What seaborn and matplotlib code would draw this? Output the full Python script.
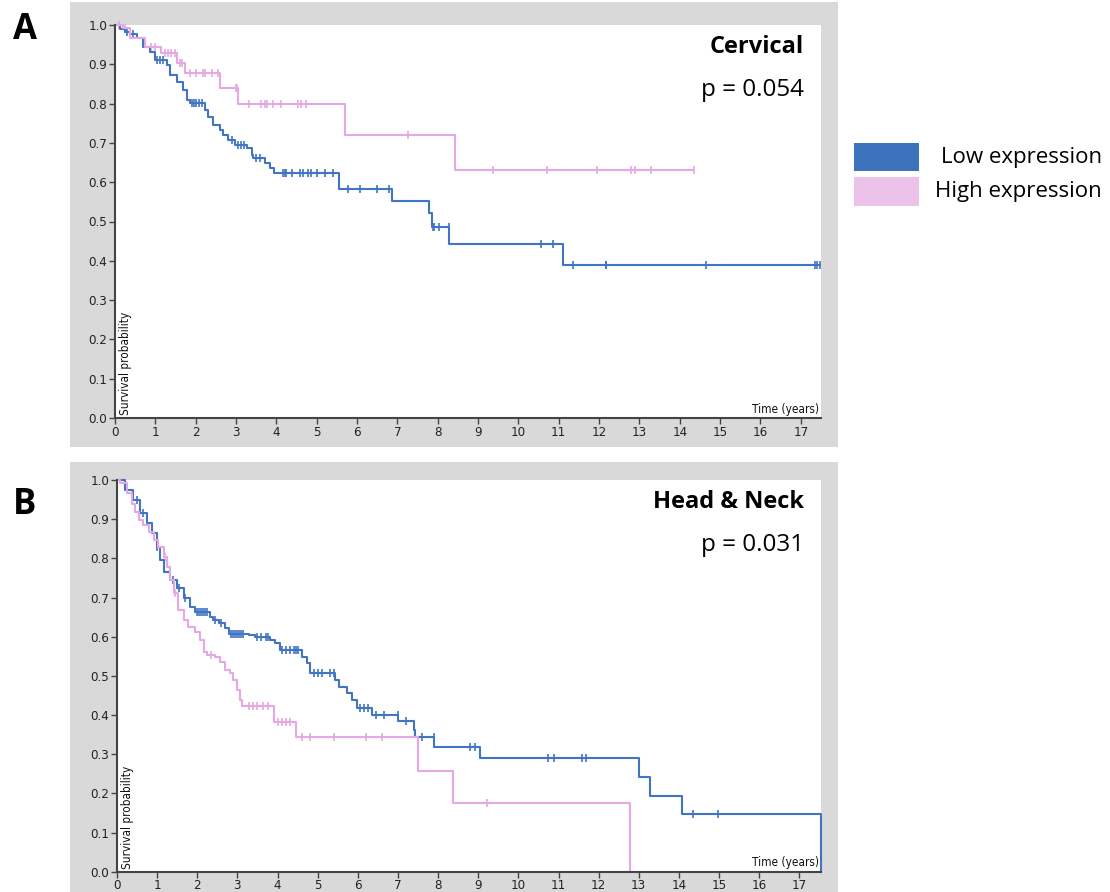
import numpy as np
import pandas as pd
import matplotlib
matplotlib.use("Agg")
import matplotlib.pyplot as plt
from matplotlib.patches import Rectangle
from matplotlib import font_manager
import seaborn as sns

# ---------------- data ----------------
# Panel A: Cervical
cerv_low_t = [0.12, 0.24, 0.37, 0.54, 0.70, 0.87, 0.99, 1.28, 1.36, 1.53, 1.69, 1.78, 1.85,
              2.23, 2.31, 2.44, 2.60, 2.68, 2.81, 2.97, 3.26, 3.39, 3.43, 3.72, 3.84, 3.94,
              5.56, 6.87, 7.78, 7.85, 8.29, 11.11]
cerv_low_s = [0.989, 0.981, 0.976, 0.966, 0.945, 0.932, 0.911, 0.898, 0.873, 0.856, 0.835, 0.809, 0.801,
              0.784, 0.767, 0.746, 0.733, 0.720, 0.707, 0.695, 0.686, 0.669, 0.661, 0.648, 0.635, 0.624,
              0.582, 0.553, 0.521, 0.487, 0.443, 0.389]
cerv_low_cens = [0.30, 0.45, 1.05, 1.12, 1.20, 1.90, 1.97, 2.02, 2.08, 2.15, 2.90, 3.05, 3.12, 3.20,
                 3.50, 3.60, 4.17, 4.21, 4.25, 4.38, 4.58, 4.66, 4.79, 4.87, 5.00, 5.20, 5.41,
                 5.78, 6.07, 6.50, 6.80, 7.89, 7.90, 8.03, 8.28, 10.55, 10.86, 11.36, 12.16,
                 12.18, 14.65, 17.35, 17.40, 17.47]

cerv_high_t = [0.20, 0.37, 0.74, 1.13, 1.53, 1.73, 2.60, 3.06, 5.70, 8.43]
cerv_high_s = [0.993, 0.966, 0.945, 0.928, 0.904, 0.877, 0.839, 0.798, 0.720, 0.631]
cerv_high_cens = [0.10, 0.25, 0.90, 1.00, 1.24, 1.32, 1.40, 1.48, 1.60, 1.65, 1.86, 2.02, 2.19,
                  2.23, 2.40, 2.56, 2.99, 3.03, 3.32, 3.61, 3.72, 3.77, 3.92, 4.11, 4.54, 4.60,
                  4.73, 7.27, 9.38, 10.71, 11.94, 12.78, 12.90, 13.28, 14.35]

# Panel B: Head & Neck
hn_low_t = [0.20, 0.41, 0.58, 0.75, 0.87, 0.99, 1.08, 1.16, 1.33, 1.49, 1.66, 1.82, 1.95,
            2.32, 2.40, 2.53, 2.70, 2.78, 3.28, 3.44, 3.82, 3.94, 4.07, 4.61, 4.73, 4.81,
            5.44, 5.52, 5.73, 5.85, 5.98, 6.35, 7.01, 7.39, 7.43, 7.91, 9.05, 13.01, 13.27,
            14.08, 17.54]
hn_low_s = [0.974, 0.949, 0.915, 0.889, 0.864, 0.830, 0.796, 0.766, 0.745, 0.724, 0.698, 0.677, 0.664,
            0.651, 0.643, 0.634, 0.621, 0.608, 0.604, 0.600, 0.592, 0.583, 0.566, 0.549, 0.532, 0.507,
            0.489, 0.472, 0.455, 0.438, 0.417, 0.400, 0.385, 0.362, 0.345, 0.319, 0.291, 0.243, 0.194,
            0.147, 0.0]
hn_low_cens = [0.50, 0.65, 1.00, 1.40, 1.55, 1.70, 2.00, 2.05, 2.10, 2.15, 2.20, 2.25, 2.45, 2.60,
               2.85, 2.90, 2.95, 3.00, 3.05, 3.10, 3.15, 3.50, 3.60, 3.70, 3.75, 4.10, 4.20, 4.30,
               4.40, 4.45, 4.50, 4.90, 5.00, 5.10, 5.30, 5.40, 6.05, 6.15, 6.25, 6.45, 6.64, 6.99,
               7.20, 7.60, 7.89, 8.80, 8.93, 10.75, 10.88, 11.58, 11.69, 14.35, 14.97]

hn_high_t = [0.08, 0.25, 0.37, 0.45, 0.54, 0.66, 0.79, 0.91, 1.03, 1.16, 1.24, 1.33, 1.41, 1.53,
             1.66, 1.78, 1.95, 2.07, 2.16, 2.24, 2.45, 2.57, 2.70, 2.82, 2.90, 2.99, 3.07, 3.11,
             3.90, 4.45, 7.49, 8.36, 12.79]
hn_high_s = [0.992, 0.966, 0.940, 0.919, 0.898, 0.885, 0.868, 0.847, 0.830, 0.804, 0.779, 0.745, 0.711,
             0.668, 0.643, 0.625, 0.613, 0.592, 0.562, 0.553, 0.549, 0.536, 0.515, 0.506, 0.489, 0.464,
             0.438, 0.424, 0.383, 0.345, 0.258, 0.175, 0.0]
hn_high_cens = [1.20, 1.45, 2.35, 3.28, 3.39, 3.49, 3.65, 3.77, 4.00, 4.10, 4.20, 4.30, 4.60, 4.80,
                5.40, 6.20, 6.60, 9.23]

panel_titles = ["Cervical", "Head & Neck"]
p_values = ["p = 0.054", "p = 0.031"]
panel_letters = ["A", "B"]
legend_labels = ["Low expression", "High expression"]
x_ticks = list(range(0, 18))
y_ticks = [0.0, 0.1, 0.2, 0.3, 0.4, 0.5, 0.6, 0.7, 0.8, 0.9, 1.0]

# ---------------- style ----------------
BLUE = "#4274c4"
PINK = "#e6a8e4"
BLUE_PATCH = "#3d72bd"
PINK_PATCH = "#ecc2ea"
GRAY = "#d9d9d9"

sns.set_style("white")
plt.rcParams["font.family"] = ["DejaVu Sans"]

# a condensed face for the small axis texts (Arial-Narrow look)
_names = {f.name for f in font_manager.fontManager.ttflist}
if "Liberation Sans Narrow" in _names:
    small_font = dict(family=["Liberation Sans Narrow", "DejaVu Sans"])
else:
    small_font = dict(family=["DejaVu Sans"], stretch="condensed")

fig = plt.figure(figsize=(11.10, 8.92), dpi=100)
W, H = 1110.0, 892.0


def frac_rect(x0, y0, x1, y1):
    return (x0 / W, 1 - y1 / H, (x1 - x0) / W, (y1 - y0) / H)


# gray panel backgrounds (behind the axes)
for (x0, y0, x1, y1) in [(70, 2, 838, 447), (70, 462, 838, 892)]:
    fig.patches.append(Rectangle((x0 / W, 1 - y1 / H), (x1 - x0) / W, (y1 - y0) / H,
                                 transform=fig.transFigure, facecolor=GRAY, edgecolor="none",
                                 zorder=-5))

axA = fig.add_axes(frac_rect(115, 25, 821, 418))
axB = fig.add_axes(frac_rect(117, 480, 821, 871.7))


def step_frame(times, surv, end):
    xs = [0.0] + list(times)
    ys = [1.0] + list(surv)
    if end > xs[-1]:
        xs.append(end)
        ys.append(ys[-1])
    return pd.DataFrame({"t": xs, "s": ys})


def cens_frame(times, surv, cens):
    tarr = np.asarray(times)
    sarr = np.asarray(surv)
    ys = []
    for c in cens:
        idx = np.searchsorted(tarr, c, side="right") - 1
        ys.append(1.0 if idx < 0 else sarr[idx])
    return pd.DataFrame({"t": cens, "s": ys})


def draw_curve(ax, times, surv, cens, color, end):
    df = step_frame(times, surv, end)
    sns.lineplot(data=df, x="t", y="s", ax=ax, color=color, lw=1.5,
                 drawstyle="steps-post", estimator=None, sort=False, clip_on=False)
    cf = cens_frame(times, surv, cens)
    sns.scatterplot(data=cf, x="t", y="s", ax=ax, marker="|", s=40, color=color,
                    linewidth=1.2, clip_on=False)


draw_curve(axA, cerv_low_t, cerv_low_s, cerv_low_cens, BLUE, 17.47)
draw_curve(axA, cerv_high_t, cerv_high_s, cerv_high_cens, PINK, 14.35)
draw_curve(axB, hn_low_t, hn_low_s, hn_low_cens, BLUE, 17.54)
draw_curve(axB, hn_high_t, hn_high_s, hn_high_cens, PINK, 12.79)

big_font = ["Open Sans", "DejaVu Sans"]
for ax, xmax, title, pval in [(axA, 17.5, panel_titles[0], p_values[0]),
                              (axB, 17.54, panel_titles[1], p_values[1])]:
    ax.set_facecolor("white")
    ax.set_xlim(0, xmax)
    ax.set_ylim(0, 1.0)
    ax.set_xticks(x_ticks)
    ax.set_yticks(y_ticks)
    ax.set_xticklabels([str(v) for v in x_ticks], fontsize=9.5, color="#222222", **small_font)
    ax.set_yticklabels([f"{v:.1f}" for v in y_ticks], fontsize=9.5, color="#222222", **small_font)
    ax.tick_params(axis="both", direction="out", length=4, width=1.0, color="#444444", pad=1.5,
                   bottom=True, left=True)
    for side in ["top", "right"]:
        ax.spines[side].set_visible(False)
    for side in ["left", "bottom"]:
        ax.spines[side].set_visible(True)
        ax.spines[side].set_color("#444444")
        ax.spines[side].set_linewidth(1.5)
    ax.set_xlabel("")
    ax.set_ylabel("")
    ax.text(0.006, 0.008, "Survival probability", transform=ax.transAxes, rotation=90,
            ha="left", va="bottom", fontsize=8.5, color="#111111", **small_font)
    ax.text(0.997, 0.006, "Time (years)", transform=ax.transAxes, ha="right", va="bottom",
            fontsize=8.5, color="#111111", **small_font)
    ax.text(0.976, 0.945, title, transform=ax.transAxes, ha="right", va="center",
            fontsize=17, fontweight="bold", family=big_font, color="black")
    ax.text(0.976, 0.835, pval, transform=ax.transAxes, ha="right", va="center",
            fontsize=17.5, family=big_font, color="black")
    if ax.get_legend() is not None:
        ax.get_legend().remove()

# panel letters
fig.text(25 / W, 1 - 30 / H, panel_letters[0], ha="center", va="center", fontsize=25,
         fontweight="bold", family=big_font, color="black")
fig.text(25 / W, 1 - 505 / H, panel_letters[1], ha="center", va="center", fontsize=25,
         fontweight="bold", family=big_font, color="black")

# legend
for (y0, y1), col, lab, ty in [((143, 171), BLUE_PATCH, legend_labels[0], 157),
                               ((177, 206), PINK_PATCH, legend_labels[1], 192)]:
    fig.patches.append(Rectangle((854 / W, 1 - y1 / H), (919 - 854) / W, (y1 - y0) / H,
                                 transform=fig.transFigure, facecolor=col, edgecolor="none"))
    fig.text(1102 / W, 1 - ty / H, lab, ha="right", va="center", fontsize=16,
             family=big_font, color="black")

fig.savefig("out.png", dpi=100)
